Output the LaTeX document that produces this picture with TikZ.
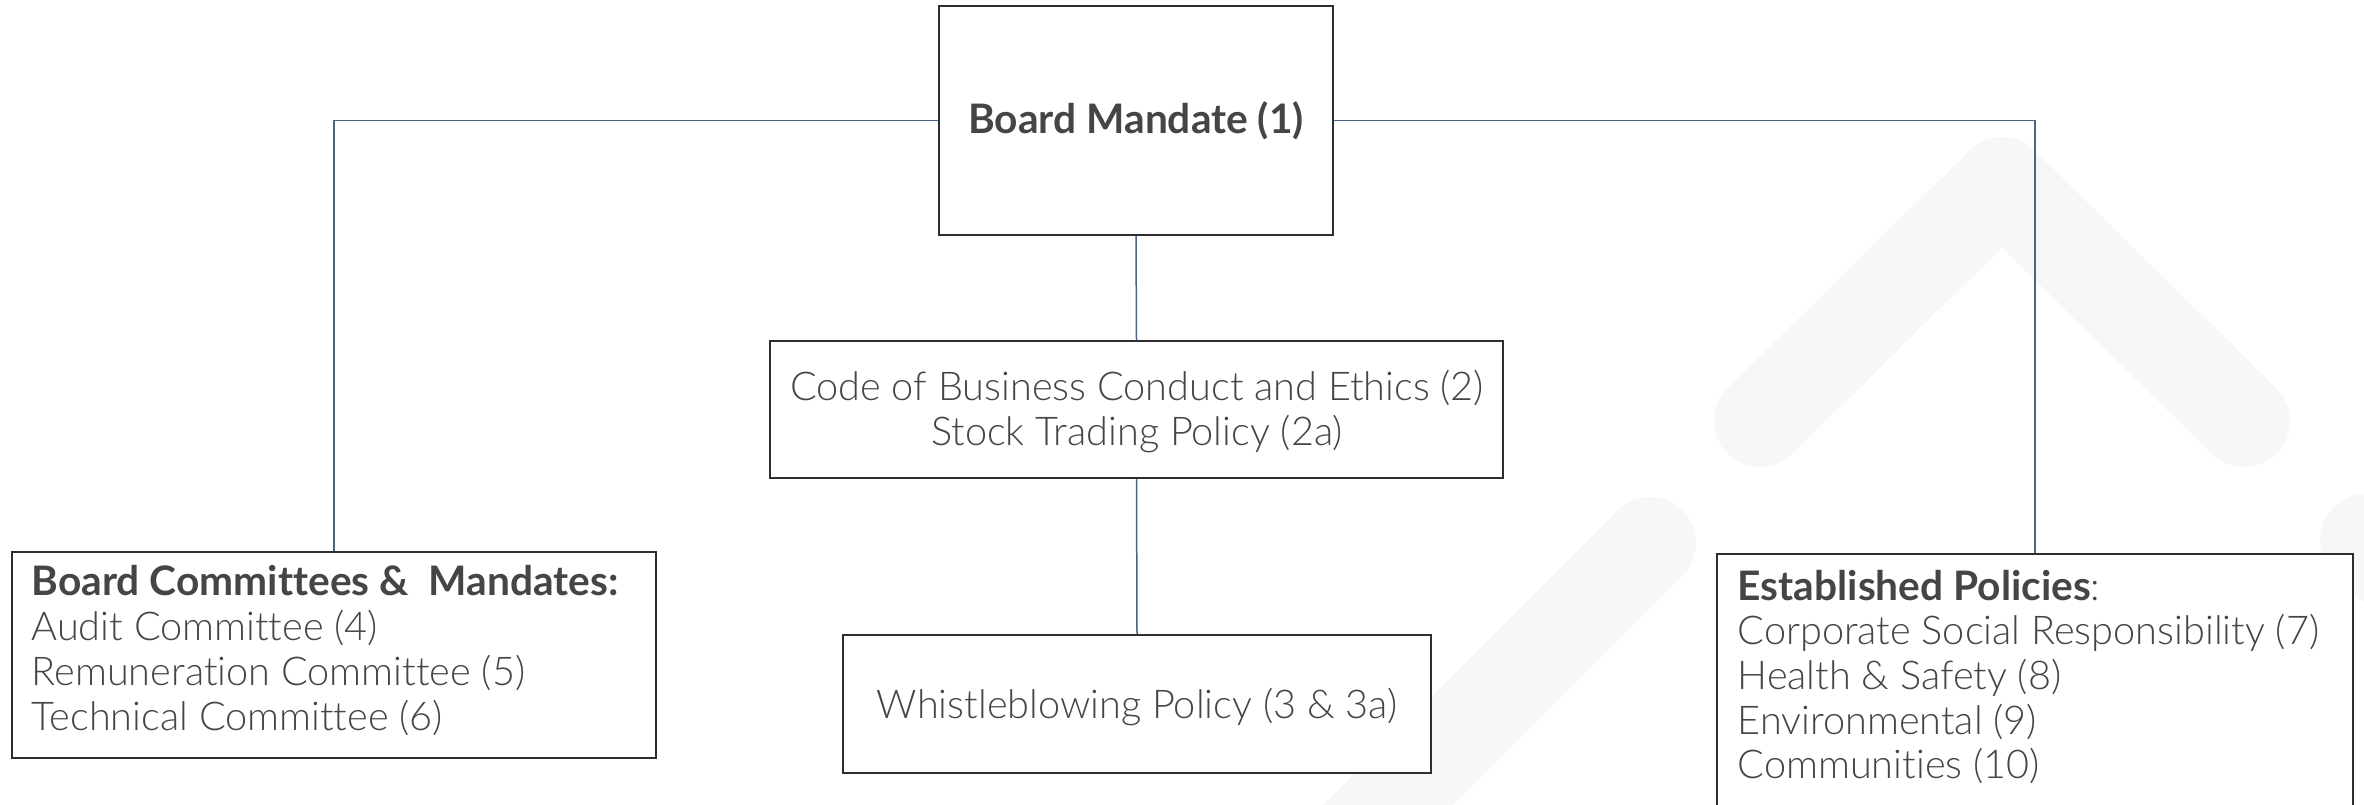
\documentclass[tikz,border=0pt]{standalone}
\usepackage{fontspec}
\setmainfont{Lato Light}[BoldFont=Lato Bold, Ligatures=NoCommon]
\definecolor{txt}{HTML}{454545}
\definecolor{conncol}{HTML}{4A6485}
\definecolor{boxcol}{HTML}{2E2E2E}
\definecolor{wmcol}{HTML}{F7F7F7}
\tikzset{
  wm/.style={draw=wmcol, line width=27.6pt, line cap=round, line join=round},
  boxnode/.style 2 args={draw=boxcol, line width=0.5pt, fill=white, rectangle,
     minimum width=#1*0.3pt, minimum height=#2*0.3pt, inner sep=0pt},
  conn/.style={draw=conncol, line width=0.45pt},
  lbl/.style={text=txt, inner sep=0pt, font=\fontsize{11.9}{13.5}\selectfont},
  blbl/.style={text=txt, inner sep=0pt, font=\fontsize{12.2}{13.5}\selectfont\bfseries},
}
\begin{document}
\begin{tikzpicture}[x=0.3pt,y=-0.3pt]
\useasboundingbox (0,0) rectangle (2364,805);
\clip (0,0) rectangle (2364,805);
\fill[white] (0,0) rectangle (2364,805);
% faint watermark
\draw[wm] (1760,421) -- (2002,183) -- (2244,421);
\draw[wm] (1650,543) -- (1350,843);
\draw[wm] (2366,540) -- (2666,840);
% boxes
\node[boxnode={394}{229}] (board) at (1136,120.5) {};
\node[boxnode={733}{137}] (code) at (1136.5,409.5) {};
\node[boxnode={588}{138}] (whistle) at (1137,704) {};
\node[boxnode={644}{206}] (left) at (334,655) {};
\node[boxnode={636}{276}] (right) at (2035,692) {};
% connectors
\draw[conn] (board.west) -| (left.north);
\draw[conn] (board.east) -| (right.north);
\draw[conn] (board.south) -- (code.north);
\draw[conn] (code.south) -- (whistle.north);
% texts
\node[blbl, anchor=base] (t1) at (1136,133) {Board Mandate (1)};
\node[lbl, anchor=base] (t2) at (1137,400) {Code of Business Conduct and Ethics (2)};
\node[lbl, anchor=base] (t2a) at (1137,445) {Stock Trading Policy (2a)};
\node[lbl, anchor=base] (t3) at (1137,718) {Whistleblowing Policy (3 \& 3a)};
\node[blbl, anchor=base west] (l0) at (31,595) {Board Committees \&\ \ Mandates:};
\node[lbl, anchor=base west] (l1) at (31,640) {Audit Committee (4)};
\node[lbl, anchor=base west] (l2) at (31,685) {Remuneration Committee (5)};
\node[lbl, anchor=base west] (l3) at (31,730) {Technical Committee (6)};
\node[lbl, anchor=base west] (r0) at (1737,600) {{\fontsize{12.2}{13.5}\selectfont\bfseries Established Policies}:};
\node[lbl, anchor=base west] (r1) at (1737,644) {Corporate Social Responsibility (7)};
\node[lbl, anchor=base west] (r2) at (1737,689) {Health \& Safety (8)};
\node[lbl, anchor=base west] (r3) at (1737,734) {Environmental (9)};
\node[lbl, anchor=base west] (r4) at (1737,778) {Communities (10)};
\end{tikzpicture}
\end{document}
